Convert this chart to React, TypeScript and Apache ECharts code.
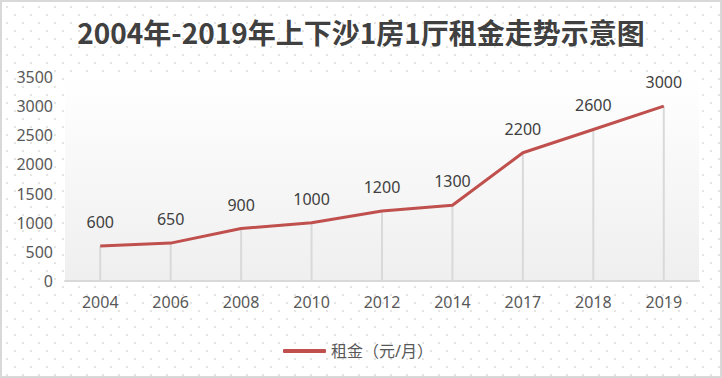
import React, { useEffect, useRef } from "react";
import * as echarts from "echarts";

const years = ["2004", "2006", "2008", "2010", "2012", "2014", "2017", "2018", "2019"];
const rents = [600, 650, 900, 1000, 1200, 1300, 2200, 2600, 3000];
const seriesName = "租金（元/月）";
const titleText = "2004年-2019年上下沙1房1厅租金走势示意图";

export default function App() {
  const ref = useRef<HTMLDivElement>(null);
  useEffect(() => {
    if (!ref.current) return;
    const chart = echarts.init(ref.current, undefined, { renderer: "svg" });
    const font = "'Noto Sans', 'Noto Sans CJK SC', sans-serif";
    chart.setOption({
      animation: false,
      title: {
        text: titleText,
        left: "center",
        top: 13,
        textStyle: {
          fontFamily: "'Noto Sans CJK SC', sans-serif",
          fontWeight: "bold",
          fontSize: 28,
          color: "#404040",
        },
      },
      legend: {
        data: [{ name: seriesName, icon: "roundRect" }],
        left: 278,
        top: 338,
        itemWidth: 43,
        itemHeight: 4,
        itemGap: 6,
        textStyle: { fontFamily: font, fontSize: 16, color: "#595959" },
      },
      grid: {
        left: 65,
        right: 23,
        top: 77,
        bottom: 97,
        show: true,
        borderWidth: 0,
        backgroundColor: new echarts.graphic.LinearGradient(0, 0, 0, 1, [
          { offset: 0, color: "#ffffff" },
          { offset: 1, color: "#efefef" },
        ]),
      },
      xAxis: {
        type: "category",
        data: years,
        boundaryGap: true,
        axisLine: { lineStyle: { color: "#d9d9d9", width: 2 } },
        axisTick: { show: false },
        axisLabel: { fontFamily: font, fontSize: 16, color: "#595959", margin: 13 },
      },
      yAxis: {
        type: "value",
        min: 0,
        max: 3500,
        interval: 500,
        splitLine: { show: false },
        axisLine: { show: false },
        axisTick: { show: false },
        axisLabel: {
          fontFamily: font,
          fontSize: 16,
          color: "#595959",
          margin: 12,
          formatter: (v: number) => String(v),
        },
      },
      series: [
        {
          name: "drop",
          type: "bar",
          data: rents,
          barWidth: 2,
          itemStyle: { color: "#d9d9d9" },
          silent: true,
          z: 1,
        },
        {
          name: seriesName,
          type: "line",
          data: rents,
          symbol: "circle",
          symbolSize: 0,
          showSymbol: true,
          lineStyle: { color: "#c0504d", width: 3 },
          itemStyle: { color: "#c0504d" },
          z: 3,
          label: {
            show: true,
            position: "top",
            distance: 16,
            fontFamily: font,
            fontSize: 16,
            color: "#404040",
          },
        },
      ],
    });
    return () => chart.dispose();
  }, []);
  return (
    <div
      style={{
        position: "fixed",
        left: 0,
        top: 0,
        width: 722,
        height: 378,
        boxSizing: "border-box",
        border: "2px solid #d9d9d9",
        backgroundColor: "#ffffff",
        backgroundImage:
          "radial-gradient(circle, #e4e4e4 1px, transparent 1.3px), radial-gradient(circle, #e4e4e4 1px, transparent 1.3px)",
        backgroundSize: "16px 16px, 16px 16px",
        backgroundPosition: "-3px -3px, 5px 5px",
      }}
    >
      <div ref={ref} style={{ position: "absolute", left: -2, top: -2, width: 722, height: 378 }} />
    </div>
  );
}
